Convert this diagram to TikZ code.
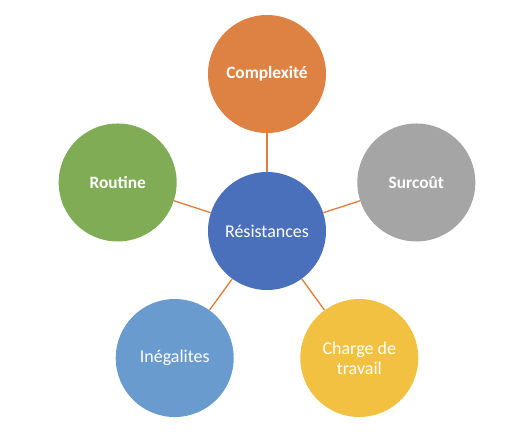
\documentclass[tikz,border=0pt]{standalone}
\usepackage{fontspec}
\setmainfont{Carlito}
\usetikzlibrary{positioning}
\definecolor{Xblue}{RGB}{74,112,187}
\definecolor{Xorange}{RGB}{222,130,68}
\definecolor{Xgreen}{RGB}{128,172,85}
\definecolor{Xgray}{RGB}{165,165,165}
\definecolor{Xyellow}{RGB}{243,193,66}
\definecolor{Xlight}{RGB}{106,155,207}
\definecolor{Xline}{RGB}{226,125,60}
\tikzset{
  bubble/.style={circle, minimum size=88.5pt, inner sep=0pt, text=white, align=center, font=\fontsize{13.5}{15}\selectfont},
  boldbubble/.style={bubble, font=\fontsize{13}{15}\selectfont\bfseries},
  link/.style={draw=Xline, line width=1pt}
}
\begin{document}
\begin{tikzpicture}[x=0.75pt, y=0.75pt]
  \useasboundingbox (0,0) rectangle (511,437);
  \node[bubble, fill=Xblue] (res) at (267,206) {Résistances};
  \node[boldbubble, fill=Xorange] (cplx) at ([shift={(90:157)}]res) {Complexité};
  \node[boldbubble, fill=Xgreen] (rout) at ([shift={(162:157)}]res) {Routine};
  \node[boldbubble, fill=Xgray] (cost) at ([shift={(18:157)}]res) {Surcoût};
  \node[bubble, fill=Xlight] (ineg) at ([shift={(234:157)}]res) {Inégalites};
  \node[bubble, fill=Xyellow] (load) at ([shift={(306:157)}]res) {Charge de\\travail};
  \draw[link] (res) -- (cplx);
  \draw[link] (res) -- (rout);
  \draw[link] (res) -- (cost);
  \draw[link] (res) -- (ineg);
  \draw[link] (res) -- (load);
\end{tikzpicture}
\end{document}
